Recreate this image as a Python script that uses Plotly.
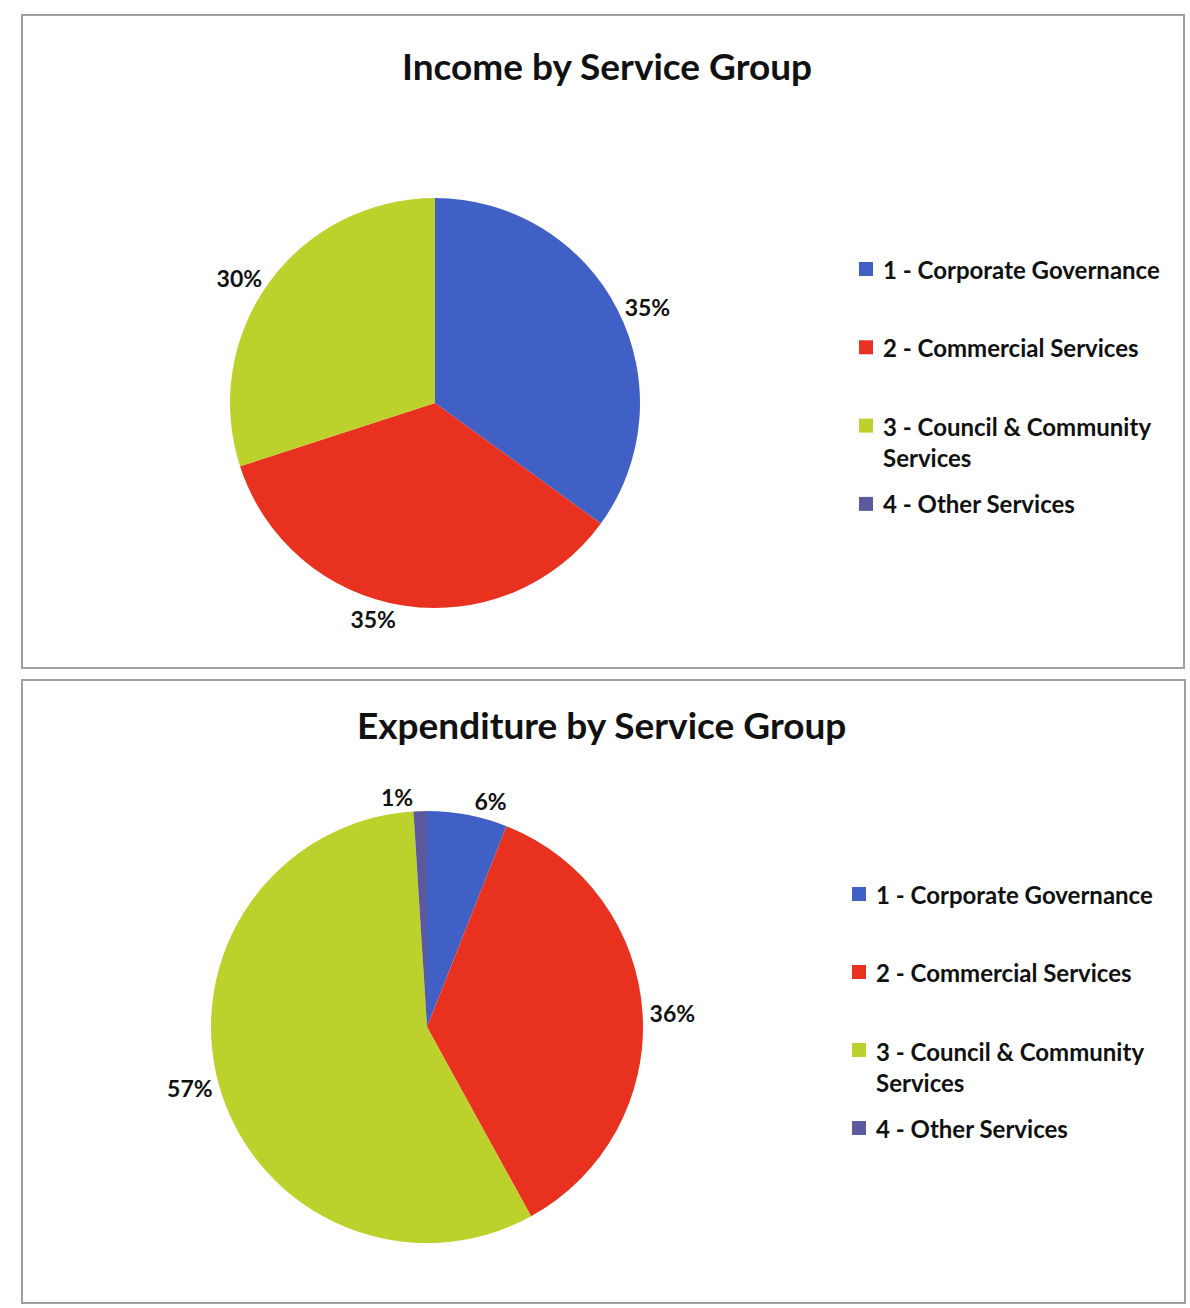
import plotly.graph_objects as go

# Service groups shown in both charts
groups = [
    "1 - Corporate Governance",
    "2 - Commercial Services",
    "3 - Council & Community Services",
    "4 - Other Services",
]
# Share of total (%) per service group
income_pct = [35, 35, 30, 0]
expenditure_pct = [6, 36, 57, 1]

colors = ["#4060C6", "#E8321F", "#BCD12B", "#5C5A9E"]

W, H = 1190, 1308
FONT = "Lato"
INK = "#111111"


def px_x(x):
    return x / W


def px_y(y):
    return 1 - y / H


def pct_text(vals):
    return [f"{v}%" if v else "" for v in vals]


def wrap(name):
    # long names break before the last word
    if len(name) > 26:
        head, tail = name.rsplit(" ", 1)
        return f"{head}<br>{tail}", 2
    return name, 1


def pie(values, domain):
    return go.Pie(
        labels=groups,
        values=values,
        text=pct_text(values),
        textinfo="text",
        textposition="outside",
        sort=False,
        direction="clockwise",
        rotation=0,
        showlegend=False,
        marker=dict(colors=colors, line=dict(width=0)),
        textfont=dict(family=FONT, size=23, color=INK, weight="bold"),
        domain=domain,
        hoverinfo="label+percent",
    )


def legend_items(sym_x, text_x, first_y, step, line_h):
    """Square swatch plus label for each group, laid out top to bottom."""
    shapes, notes = [], []
    y = first_y
    for name, col in zip(groups, colors):
        text, n = wrap(name)
        shapes.append(dict(
            type="rect", xref="paper", yref="paper",
            x0=px_x(sym_x - 7), x1=px_x(sym_x + 7),
            y0=px_y(y + 7), y1=px_y(y - 7),
            fillcolor=col, line=dict(width=0),
        ))
        notes.append(dict(
            text=text, x=px_x(text_x), y=px_y(y + (n - 1) * line_h / 2),
            xref="paper", yref="paper", xanchor="left", yanchor="middle",
            align="left", showarrow=False,
            font=dict(family=FONT, size=24, color=INK, weight="bold"),
        ))
        y += step
    return shapes, notes


fig = go.Figure()
fig.add_trace(pie(income_pct,
                  dict(x=[px_x(230), px_x(640)], y=[px_y(608), px_y(198)])))
fig.add_trace(pie(expenditure_pct,
                  dict(x=[px_x(211), px_x(643)], y=[px_y(1243), px_y(811)])))

leg1_shapes, leg1_notes = legend_items(866, 881, 269, 78.3, 32)
leg2_shapes, leg2_notes = legend_items(859, 874, 894, 78, 33)

panels = [
    dict(type="rect", xref="paper", yref="paper",
         x0=px_x(22), x1=px_x(1184), y0=px_y(668), y1=px_y(15),
         line=dict(color="#a0a0a0", width=2)),
    dict(type="rect", xref="paper", yref="paper",
         x0=px_x(22), x1=px_x(1185), y0=px_y(1303), y1=px_y(680),
         line=dict(color="#a0a0a0", width=2)),
]

titles = [
    dict(text="Income by Service Group", x=px_x(607), y=px_y(65),
         xref="paper", yref="paper", xanchor="center", yanchor="middle",
         showarrow=False,
         font=dict(family=FONT, size=37, color=INK, weight="bold")),
    dict(text="Expenditure by Service Group", x=px_x(601), y=px_y(724),
         xref="paper", yref="paper", xanchor="center", yanchor="middle",
         showarrow=False,
         font=dict(family=FONT, size=37, color=INK, weight="bold")),
]

fig.update_layout(
    width=W,
    height=H,
    margin=dict(l=0, r=0, t=0, b=0),
    paper_bgcolor="white",
    shapes=panels + leg1_shapes + leg2_shapes,
    annotations=titles + leg1_notes + leg2_notes,
)

fig.write_html("out.html")
